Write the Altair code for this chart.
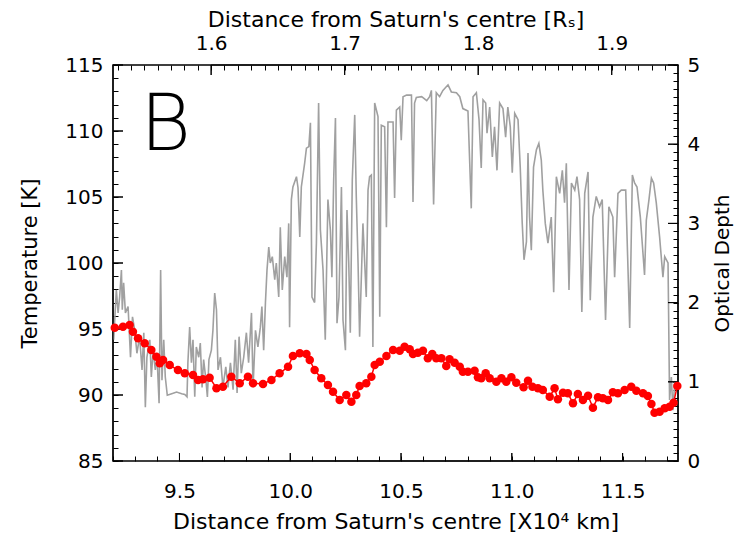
import altair as alt
import pandas as pd

RS_KM = 6.0268  # Saturn radius in units of 10^4 km

# Temperature profile (red)
temp_x = [9.208, 9.245, 9.275, 9.290, 9.313, 9.343, 9.373, 9.396, 9.411, 9.426,
          9.456, 9.493, 9.524, 9.561, 9.584, 9.606, 9.636, 9.667, 9.696, 9.734,
          9.772, 9.809, 9.832, 9.877, 9.915, 9.952, 9.990, 10.012, 10.043, 10.073,
          10.088, 10.110, 10.140, 10.170, 10.193, 10.223, 10.253, 10.276, 10.298, 10.313,
          10.343, 10.366, 10.381, 10.404, 10.434, 10.464, 10.494, 10.516, 10.539, 10.554,
          10.576, 10.599, 10.621, 10.641, 10.659, 10.682, 10.704, 10.719, 10.742, 10.765,
          10.779, 10.802, 10.832, 10.847, 10.862, 10.882, 10.900, 10.930, 10.953, 10.975,
          10.998, 11.020, 11.053, 11.073, 11.093, 11.118, 11.140, 11.171, 11.193, 11.208,
          11.231, 11.253, 11.276, 11.298, 11.321, 11.344, 11.366, 11.389, 11.411, 11.434,
          11.456, 11.479, 11.509, 11.539, 11.562, 11.592, 11.614, 11.630, 11.644, 11.667,
          11.690, 11.712, 11.730, 11.747]
temp_k = [95.10, 95.17, 95.30, 94.80, 94.30, 93.92, 93.41, 92.90, 92.40, 92.65,
          92.27, 91.89, 91.64, 91.52, 91.14, 91.19, 91.31, 90.51, 90.63, 91.39,
          90.89, 91.39, 90.89, 90.83, 91.14, 91.64, 92.14, 92.95, 93.16, 93.11,
          92.65, 91.89, 91.27, 90.76, 90.25, 89.62, 90.00, 89.49, 90.00, 90.68,
          90.89, 91.39, 92.27, 92.52, 92.95, 93.41, 93.36, 93.66, 93.46, 93.11,
          93.20, 93.36, 92.78, 93.11, 92.78, 92.78, 92.20, 92.70, 92.45, 92.14,
          91.77, 91.77, 91.84, 91.34, 91.27, 91.64, 91.27, 91.01, 91.27, 91.01,
          91.34, 90.93, 90.58, 91.08, 90.63, 90.51, 90.38, 89.87, 90.51, 89.67,
          90.17, 90.13, 89.37, 90.08, 89.62, 89.95, 89.04, 89.83, 89.75, 89.62,
          90.20, 90.13, 90.38, 90.63, 90.33, 90.13, 89.92, 89.32, 88.66, 88.73,
          88.99, 89.11, 89.42, 90.68]

# Optical depth profile (grey)
od_x = [9.203, 9.215, 9.223, 9.230, 9.238, 9.242, 9.248, 9.256, 9.268, 9.279,
        9.288, 9.298, 9.308, 9.320, 9.331, 9.339, 9.346, 9.353, 9.366, 9.373,
        9.381, 9.391, 9.399, 9.408, 9.415, 9.421, 9.429, 9.436, 9.445, 9.465,
        9.487, 9.510, 9.524, 9.534, 9.538, 9.546, 9.554, 9.561, 9.569, 9.576,
        9.587, 9.594, 9.602, 9.609, 9.618, 9.626, 9.633, 9.644, 9.651, 9.659,
        9.667, 9.674, 9.685, 9.696, 9.709, 9.719, 9.730, 9.742, 9.752, 9.760,
        9.769, 9.779, 9.790, 9.802, 9.812, 9.825, 9.832, 9.843, 9.854, 9.865,
        9.872, 9.880, 9.888, 9.895, 9.903, 9.910, 9.919, 9.930, 9.937, 9.948,
        9.955, 9.964, 9.975, 9.985, 9.993, 9.997, 10.005, 10.012, 10.028, 10.035,
        10.043, 10.050, 10.065, 10.073, 10.084, 10.091, 10.098, 10.110, 10.118, 10.128,
        10.136, 10.148, 10.158, 10.170, 10.181, 10.188, 10.196, 10.204, 10.211, 10.220,
        10.231, 10.238, 10.249, 10.256, 10.264, 10.271, 10.280, 10.291, 10.298, 10.306,
        10.313, 10.328, 10.343, 10.351, 10.358, 10.366, 10.373, 10.381, 10.396, 10.404,
        10.411, 10.426, 10.434, 10.441, 10.464, 10.471, 10.479, 10.494, 10.501, 10.509,
        10.525, 10.547, 10.554, 10.561, 10.569, 10.593, 10.616, 10.629, 10.637, 10.647,
        10.659, 10.674, 10.689, 10.712, 10.727, 10.750, 10.765, 10.779, 10.802, 10.817,
        10.825, 10.840, 10.852, 10.862, 10.870, 10.882, 10.888, 10.900, 10.912, 10.922,
        10.933, 10.945, 10.960, 10.972, 10.982, 10.993, 11.002, 11.013, 11.028, 11.038,
        11.047, 11.055, 11.066, 11.073, 11.080, 11.088, 11.098, 11.111, 11.122, 11.133,
        11.140, 11.151, 11.163, 11.178, 11.189, 11.201, 11.216, 11.228, 11.238, 11.246,
        11.258, 11.269, 11.284, 11.294, 11.306, 11.316, 11.329, 11.344, 11.354, 11.366,
        11.381, 11.396, 11.408, 11.423, 11.438, 11.456, 11.464, 11.479, 11.494, 11.514,
        11.532, 11.544, 11.554, 11.565, 11.580, 11.599, 11.607, 11.619, 11.630, 11.640,
        11.652, 11.667, 11.682, 11.690, 11.705, 11.712, 11.720, 11.727, 11.735, 11.750]
od_tau = [1.53, 2.16, 1.87, 2.07, 2.41, 1.91, 2.25, 1.87, 1.95, 1.31,
          1.82, 1.65, 1.36, 1.57, 1.15, 1.62, 0.68, 1.31, 1.53, 1.06,
          1.40, 1.15, 1.31, 0.73, 2.41, 1.02, 1.53, 1.06, 0.83, 0.85,
          0.87, 0.85, 0.84, 0.81, 1.24, 1.69, 1.24, 1.53, 0.81, 1.44,
          1.31, 1.49, 0.93, 1.28, 1.06, 0.81, 1.28, 1.40, 1.65, 2.12,
          1.91, 1.15, 1.31, 0.93, 1.19, 0.93, 1.24, 0.90, 1.53, 0.86,
          1.57, 1.11, 1.31, 1.62, 1.24, 1.87, 0.93, 1.65, 1.44, 1.69,
          1.95, 1.40, 2.00, 2.41, 2.70, 2.50, 2.58, 2.29, 2.50, 2.07,
          2.95, 2.16, 2.58, 2.32, 3.00, 1.69, 3.30, 3.46, 3.59, 3.45,
          2.83, 3.46, 3.76, 3.95, 3.97, 4.27, 2.07, 2.00, 2.75, 4.52,
          2.92, 2.41, 1.53, 3.30, 2.92, 2.32, 3.55, 4.33, 1.74, 2.07,
          3.46, 1.78, 1.40, 3.17, 2.50, 1.62, 3.55, 4.37, 3.34, 2.50,
          1.57, 3.00, 2.07, 3.42, 3.59, 3.61, 1.44, 4.52, 4.35, 1.82,
          4.24, 4.22, 2.95, 4.28, 4.28, 3.32, 4.43, 4.47, 4.05, 4.60,
          4.62, 4.62, 3.27, 4.52, 4.59, 4.60, 4.55, 4.60, 4.68, 3.24,
          4.65, 4.60, 4.68, 4.75, 4.66, 4.65, 4.60, 4.45, 4.42, 3.19,
          4.60, 4.65, 4.31, 3.70, 4.56, 4.52, 4.14, 4.47, 3.84, 4.22,
          3.67, 4.52, 4.45, 4.09, 4.47, 4.22, 3.64, 4.39, 4.31, 3.71,
          3.00, 2.54, 2.77, 3.89, 3.08, 2.66, 3.71, 3.93, 4.01, 3.80,
          3.42, 3.00, 2.75, 3.08, 2.13, 3.59, 3.38, 3.67, 3.26, 3.76,
          2.16, 3.51, 3.42, 3.59, 3.30, 1.88, 3.38, 3.65, 2.03, 3.08,
          3.34, 3.21, 3.30, 1.78, 3.21, 3.08, 2.32, 3.38, 3.42, 3.42,
          1.68, 3.61, 3.51, 3.46, 3.08, 2.35, 3.04, 3.30, 3.57, 3.51,
          3.26, 2.83, 2.32, 2.58, 2.50, 0.77, 1.06, 0.64, 0.98, 0.90]

# Tick values
x_major = [9.5, 10.0, 10.5, 11.0, 11.5]
x_minor = [round(9.2 + 0.1 * i, 1) for i in range(26)]
rs_major = [1.6, 1.7, 1.8, 1.9]
rs_minor = [round(1.53 + 0.01 * i, 2) for i in range(42)]
t_major = [85, 90, 95, 100, 105, 110, 115]
t_minor = list(range(85, 116))
tau_major = [0, 1, 2, 3, 4, 5]
tau_minor = [round(0.1 * i, 1) for i in range(51)]

X0, X1 = 9.2, 11.75
T0, T1 = 85, 115
D0, D1 = 0, 5
W, H = 565, 396
FONT = "DejaVu Sans"
LBL = 20
WT = 400
TK = 5  # uniform inward axis tick length (px)

xs = alt.Scale(domain=[X0, X1], nice=False, zero=False)
ts = alt.Scale(domain=[T0, T1], nice=False, zero=False)
osc = alt.Scale(domain=[D0, D1], nice=False, zero=False)

# Axes carry every tick position (inward, via a negative tick size expression);
# only the major positions get a label.
common_axis = dict(ticks=True, tickSize={"expr": str(-TK)}, tickColor="black", tickWidth=1,
                   tickOpacity=1, domain=False, grid=False, labelFont=FONT, titleFont=FONT,
                   labelFontSize=LBL, labelColor="black", titleColor="black",
                   titleFontWeight=WT, labelFontWeight=WT,
                   labelOverlap=False, labelFlush=False)

od_df = pd.DataFrame({"x": od_x, "tau": od_tau})
t_df = pd.DataFrame({"x": temp_x, "t": temp_k})

gray = alt.Chart(od_df).mark_line(color="#a0a0a0", strokeWidth=1.6, clip=True).encode(
    x=alt.X("x:Q", scale=xs, axis=alt.Axis(
        orient="bottom", values=x_minor,
        labelExpr="abs(datum.value * 2 - round(datum.value * 2)) < 0.001 ? format(datum.value, '.1f') : ''",
        labelPadding=20 + TK, titleFontSize=22,
        title="Distance from Saturn's centre [X10\u2074 km]",
        titleX=W / 2, titleY=60, titleAlign="center", titleBaseline="middle", **common_axis)),
    y=alt.Y("tau:Q", scale=osc, axis=alt.Axis(
        orient="right", values=tau_minor,
        labelExpr="abs(datum.value - round(datum.value)) < 0.001 ? format(datum.value, 'd') : ''",
        labelPadding=9 + TK, title="Optical Depth", titleFontSize=20,
        titleAngle=-90, titleX=44, titleY=H / 2, titleAlign="center", titleBaseline="middle",
        **common_axis)),
)

red_line = alt.Chart(t_df).mark_line(color="#ff0000", strokeWidth=1.5).encode(
    x=alt.X("x:Q", scale=xs, axis=alt.Axis(
        orient="top", values=[r * RS_KM for r in rs_minor],
        labelExpr=(f"abs(datum.value / {RS_KM} * 10 - round(datum.value / {RS_KM} * 10)) < 0.001"
                   f" ? format(datum.value / {RS_KM}, '.1f') : ''"),
        labelPadding=12 + TK, titleFontSize=22,
        title="Distance from Saturn's centre [R\u209b]",
        titleX=W / 2, titleY=-46, titleAlign="center", titleBaseline="middle", **common_axis)),
    y=alt.Y("t:Q", scale=ts, axis=alt.Axis(
        orient="left", values=t_minor,
        labelExpr="datum.value % 5 == 0 ? format(datum.value, 'd') : ''",
        labelPadding=10 + TK, title="Temperature [K]", titleFontSize=21,
        titleAngle=-90, titleX=-83, titleY=H / 2, titleAlign="center", titleBaseline="middle",
        **common_axis)),
)

red_pts = alt.Chart(t_df).mark_circle(color="#ff0000", size=72, opacity=1).encode(
    x=alt.X("x:Q", scale=xs, axis=None),
    y=alt.Y("t:Q", scale=ts, axis=None),
)

# ---- longer major ticks: one zig-zag polyline per side that runs along the frame ----
px_per_x = W / (X1 - X0)
px_per_t = H / (T1 - T0)


def zigzag_h(vals, edge, depth):
    rows = []
    for v in vals:
        rows += [(v, edge), (v, edge + depth), (v, edge)]
    return pd.DataFrame([(i, a, b) for i, (a, b) in enumerate(rows)], columns=["i", "x", "y"])


def zigzag_v(vals, edge, depth):
    rows = []
    for v in vals:
        rows += [(edge, v), (edge + depth, v), (edge, v)]
    return pd.DataFrame([(i, a, b) for i, (a, b) in enumerate(rows)], columns=["i", "x", "y"])


def zz_layer(df, yscale):
    return alt.Chart(df).mark_line(color="#000000", strokeWidth=1, opacity=1).encode(
        x=alt.X("x:Q", scale=xs, axis=None),
        y=alt.Y("y:Q", scale=yscale, axis=None),
        order=alt.Order("i:Q"),
    )


zz_layers = [
    zz_layer(zigzag_h(x_major, T0, 8 / px_per_t), ts),
    zz_layer(zigzag_h([r * RS_KM for r in rs_major], T1, -10 / px_per_t), ts),
    zz_layer(zigzag_v(t_major, X0, 10 / px_per_x), ts),
    zz_layer(zigzag_v(tau_major, X1, -10 / px_per_x), osc),
]

b_txt = alt.Chart(pd.DataFrame({"s": ["B"]})).mark_text(
    font=FONT, fontSize=78, fontWeight=200, align="left", baseline="alphabetic", color="black"
).encode(text="s:N", x=alt.value(27), y=alt.value(85))

chart = alt.layer(gray, *zz_layers, red_line, red_pts, b_txt).resolve_scale(
    y="independent"
).resolve_axis(x="independent", y="independent").properties(
    width=W, height=H,
    autosize=alt.AutoSizeParams(type="none"),
    padding={"left": 113, "top": 65, "right": 57, "bottom": 74},
).configure_view(stroke="black", strokeWidth=1.5)

chart.save("out.html", embed_options={"renderer": "svg", "actions": False})
